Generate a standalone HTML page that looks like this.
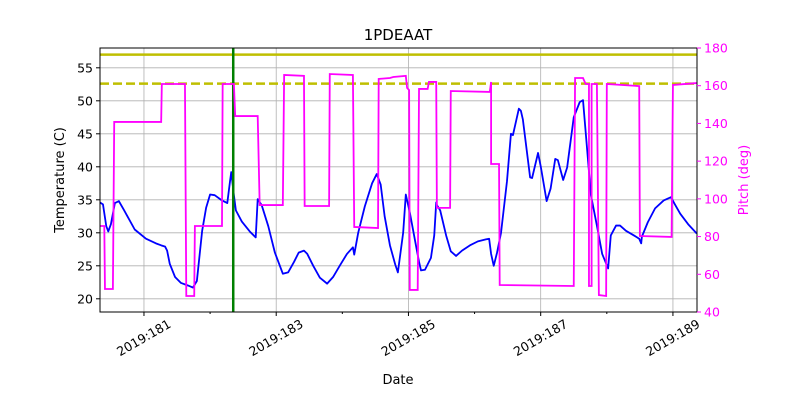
<!DOCTYPE html>
<html><head><meta charset="utf-8"><style>body{margin:0;background:#fff}svg{display:block;font-family:"DejaVu Sans","Liberation Sans",sans-serif}</style></head>
<body>
<svg id="c" width="800" height="400"></svg>
<script>
const tempDays=[180.335,180.38,180.43,180.46,180.50,180.53,180.56,180.62,180.70,180.86,181.03,181.18,181.26,181.32,181.35,181.39,181.47,181.56,181.67,181.74,181.80,181.88,181.94,182.00,182.07,182.18,182.26,182.30,182.32,182.36,182.39,182.48,182.60,182.69,182.72,182.78,182.88,182.98,183.10,183.18,183.27,183.34,183.42,183.47,183.56,183.66,183.77,183.86,183.96,184.07,184.16,184.18,184.24,184.34,184.45,184.52,184.58,184.64,184.72,184.80,184.84,184.92,184.96,185.02,185.10,185.16,185.19,185.25,185.34,185.39,185.42,185.43,185.48,185.57,185.64,185.72,185.81,185.93,186.05,186.17,186.22,186.25,186.29,186.34,186.40,186.49,186.55,186.58,186.67,186.70,186.73,186.84,186.87,186.96,187.00,187.09,187.15,187.22,187.26,187.34,187.40,187.50,187.59,187.64,187.76,187.85,187.93,188.02,188.06,188.14,188.20,188.29,188.41,188.49,188.52,188.53,188.62,188.73,188.86,188.97,189.03,189.11,189.23,189.36];
const tempValues=[34.6,34.3,31.0,30.2,31.3,32.9,34.5,34.8,33.4,30.5,29.1,28.4,28.1,27.9,27.3,25.3,23.3,22.4,22.0,21.7,22.7,30.3,33.8,35.8,35.7,34.9,34.5,37.7,39.2,35.7,33.4,31.7,30.2,29.3,35.1,34.2,31.0,27.0,23.8,24.0,25.6,27.0,27.3,26.8,25.0,23.2,22.3,23.3,25.0,26.8,27.8,26.7,30.0,34.0,37.5,38.9,37.3,32.5,28.1,25.2,24.0,30.0,35.8,33.1,28.8,25.6,24.3,24.4,26.2,29.6,34.6,34.2,33.4,29.6,27.2,26.5,27.3,28.1,28.7,29.0,29.1,26.8,25.0,27.0,30.0,37.8,45.0,44.8,48.8,48.5,47.2,38.4,38.3,42.1,40.1,34.8,36.7,41.2,41.0,38.0,39.9,47.5,49.8,50.1,35.7,31.1,26.8,24.6,29.6,31.1,31.1,30.3,29.6,29.1,28.4,29.4,31.6,33.7,34.9,35.4,34.3,32.9,31.3,29.9];
const pitchDays=[180.335,180.40,180.41,180.53,180.55,181.26,181.27,181.62,181.64,181.76,181.77,182.18,182.19,182.36,182.38,182.72,182.75,183.10,183.12,183.42,183.43,183.80,183.81,184.16,184.18,184.54,184.55,184.72,184.77,184.96,184.98,185.01,185.02,185.14,185.16,185.29,185.31,185.42,185.43,185.63,185.64,186.23,186.25,186.25,186.37,186.38,187.50,187.52,187.64,187.68,187.73,187.73,187.77,187.77,187.85,187.88,187.99,188.00,188.49,188.50,188.98,189.00,189.36];
const pitchValues=[85.6,85.6,52.2,52.2,140.8,140.8,160.9,160.9,48.5,48.5,85.6,85.6,160.9,160.9,143.9,143.9,96.7,96.7,165.7,165.2,96.2,96.2,166.2,165.7,85.1,84.5,163.6,164.1,164.6,165.2,158.8,157.7,51.7,51.7,158.3,158.3,162.0,162.0,95.2,95.2,157.2,156.7,162.0,118.5,118.5,54.3,53.8,164.1,164.1,160.9,160.9,53.8,53.8,160.9,160.9,49.0,48.5,160.9,159.8,80.3,79.8,160.4,161.4];
const limitSolid=57.0, limitDashed=52.6, markerDay=182.35;
const tempTicks=[20,25,30,35,40,45,50,55];
const pitchTicks=[40,60,80,100,120,140,160,180];
const dayTicks=[181,183,185,187,189];
const minorDays=[182,184,186,188];

const L=100,R=697,T=48,B=312;
const xMin=180.335,xMax=189.364,tMin=18,tMax=58,pMin=40,pMax=180;
const X=d=>L+(d-xMin)/(xMax-xMin)*(R-L);
const YT=v=>B-(v-tMin)/(tMax-tMin)*(B-T);
const YP=v=>B-(v-pMin)/(pMax-pMin)*(B-T);
const svg=document.getElementById('c');const NS='http://www.w3.org/2000/svg';
function mk(tag,at,parent){const e=document.createElementNS(NS,tag);for(const k in at)e.setAttribute(k,at[k]);(parent||svg).appendChild(e);return e;}
const grid=mk('g',{});


dayTicks.forEach(d=>{mk('line',{x1:X(d),x2:X(d),y1:T,y2:B,stroke:'#b0b0b0','stroke-width':0.8},grid);});
tempTicks.forEach(v=>{mk('line',{x1:L,x2:R,y1:YT(v),y2:YT(v),stroke:'#b0b0b0','stroke-width':0.8},grid);});
const tl=mk('polyline',{points:tempDays.map((d,i)=>X(d)+','+YT(tempValues[i])).join(' '),fill:'none',stroke:'#0000ff','stroke-width':1.8,'stroke-linejoin':'round'});


const ls=mk('line',{x1:L,x2:R,y1:YT(limitSolid),y2:YT(limitSolid),stroke:'#bfbf00','stroke-width':2.5});


const ld=mk('line',{x1:L,x2:R,y1:YT(limitDashed),y2:YT(limitDashed),stroke:'#bfbf00','stroke-width':2.5,'stroke-dasharray':'9,4'});


const vm=mk('line',{x1:X(markerDay),x2:X(markerDay),y1:T,y2:B,stroke:'#008000','stroke-width':2.5});


const pl=mk('polyline',{points:pitchDays.map((d,i)=>X(d)+','+YP(pitchValues[i])).join(' '),fill:'none',stroke:'#ff00ff','stroke-width':1.8});


const fr=mk('rect',{x:L,y:T,width:R-L,height:B-T,fill:'none',stroke:'#000','stroke-width':1});


tempTicks.forEach(v=>{const y=YT(v);mk('line',{x1:L-4,x2:L,y1:y,y2:y,stroke:'#000'});
const t=mk('text',{x:L-7,y:y+4.5,'text-anchor':'end','font-size':12.5});t.textContent=v;

});
pitchTicks.forEach(v=>{const y=YP(v);mk('line',{x1:R,x2:R+4,y1:y,y2:y,stroke:'#ff00ff'});
const t=mk('text',{x:R+7,y:y+4.5,'font-size':12.5,fill:'#ff00ff'});t.textContent=v;

});
minorDays.forEach(d=>mk('line',{x1:X(d),x2:X(d),y1:B,y2:B+2,stroke:'#000'}));
dayTicks.forEach(d=>{const x=X(d);mk('line',{x1:x,x2:x,y1:B,y2:B+4,stroke:'#000'});
const t=mk('text',{x:x,y:B+30,'text-anchor':'middle','font-size':12.5,transform:`rotate(-30 ${x} ${B+26})`});t.textContent='2019:'+d;

});
</script>
<svg width="800" height="400" style="position:absolute;left:0;top:0">
<text x="398" y="40" text-anchor="middle" font-size="15">1PDEAAT</text>
<text x="398" y="384" text-anchor="middle" font-size="13">Date</text>
<text transform="translate(64 180) rotate(-90)" text-anchor="middle" font-size="13">Temperature (C)</text>
<text transform="translate(748 180) rotate(-90)" text-anchor="middle" font-size="13" fill="#ff00ff">Pitch (deg)</text>
</svg>
</body></html>
